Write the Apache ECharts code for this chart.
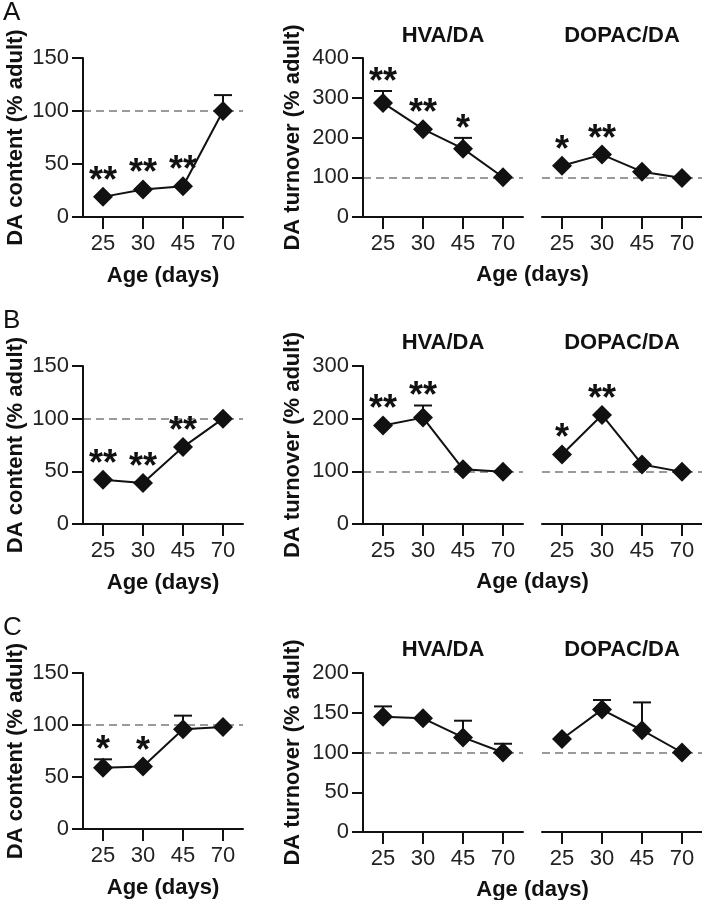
<!DOCTYPE html>
<html><head><meta charset="utf-8">
<script src="https://cdn.jsdelivr.net/npm/echarts@6/dist/echarts.min.js"></script>
<style>html,body{margin:0;padding:0;background:#fff;}#c{width:702px;height:900px;}</style>
</head><body><div id="c"></div>
<script>
// ---- data ----
const ages = ['25', '30', '45', '70'];
const contentTicksMax = 150;

const aContent = [19, 26, 29, 100];
const aContentErr = [0, 0, 0, 15];
const aContentStars = ['**', '**', '**', ''];
const aHVA = [287, 221, 172, 100];
const aHVAErr = [30, 0, 27, 0];
const aHVAStars = ['**', '**', '*', ''];
const aDOPAC = [129, 157, 114, 98];
const aDOPACErr = [0, 0, 0, 0];
const aDOPACStars = ['*', '**', '', ''];

const bContent = [42, 39, 73, 100];
const bContentErr = [0, 0, 0, 0];
const bContentStars = ['**', '**', '**', ''];
const bHVA = [187, 202, 104, 99];
const bHVAErr = [0, 23, 0, 0];
const bHVAStars = ['**', '**', '', ''];
const bDOPAC = [132, 207, 113, 99];
const bDOPACErr = [0, 0, 0, 0];
const bDOPACStars = ['*', '**', '', ''];

const cContent = [59, 60, 96, 98];
const cContentErr = [8, 0, 13, 0];
const cContentStars = ['*', '*', '', ''];
const cHVA = [145, 143, 119, 100];
const cHVAErr = [13, 0, 21, 11];
const cHVAStars = ['', '', '', ''];
const cDOPAC = [117, 154, 128, 100];
const cDOPACErr = [0, 12, 35, 0];
const cDOPACStars = ['', '', '', ''];

const turnoverMax = [400, 300, 200];
const turnoverStep = [100, 100, 50];
const refLine = 100;

// ---- layout ----
const FONT = 'Liberation Sans, Arial, Helvetica, sans-serif';
const INK = '#111';
const rows = [{top: 58, h: 159}, {top: 366, h: 158}, {top: 673, h: 159}];
const cols = [83, 363, 542];
const W = 160;

const panels = [
  [[aContent, aContentErr, aContentStars], [aHVA, aHVAErr, aHVAStars], [aDOPAC, aDOPACErr, aDOPACStars]],
  [[bContent, bContentErr, bContentStars], [bHVA, bHVAErr, bHVAStars], [bDOPAC, bDOPACErr, bDOPACStars]],
  [[cContent, cContentErr, cContentStars], [cHVA, cHVAErr, cHVAStars], [cDOPAC, cDOPACErr, cDOPACStars]]
];

const grid = [], xAxis = [], yAxis = [], series = [], graphic = [];

const axisLine = {show: true, lineStyle: {color: INK, width: 2}};
const tick = (len) => ({show: true, inside: false, length: len, lineStyle: {color: INK, width: 2}});

panels.forEach((row, r) => {
  row.forEach((p, c) => {
    const gi = grid.length;
    grid.push({left: cols[c], top: rows[r].top, width: W, height: rows[r].h, containLabel: false});
    xAxis.push({
      type: 'category', gridIndex: gi, data: ages, boundaryGap: true,
      axisLine: axisLine, axisTick: Object.assign(tick(12), {alignWithLabel: true}),
      axisLabel: {fontSize: 22, color: '#222', margin: 16, fontFamily: FONT},
      name: c === 0 ? 'Age (days)' : '', nameLocation: 'middle', nameGap: 48,
      nameTextStyle: {fontSize: 22, fontWeight: 'bold', color: INK, fontFamily: FONT},
      splitLine: {show: false}
    });
    const isContent = c === 0;
    const max = isContent ? contentTicksMax : turnoverMax[r];
    const step = isContent ? 50 : turnoverStep[r];
    yAxis.push({
      type: 'value', gridIndex: gi, min: 0, max: max, interval: step,
      show: c !== 2,
      axisLine: axisLine, axisTick: tick(11),
      axisLabel: {fontSize: 22, color: '#222', margin: 14, fontFamily: FONT},
      splitLine: {show: false},
      name: c === 0 ? 'DA content (% adult)' : (c === 1 ? 'DA turnover (% adult)' : ''),
      nameLocation: 'middle', nameGap: c === 0 ? 56 : 59,
      nameTextStyle: {fontSize: 22, fontWeight: 'bold', color: INK, fontFamily: FONT}
    });
    const vals = p[0], errs = p[1], stars = p[2];
    // error bars (upper only)
    series.push({
      type: 'custom', xAxisIndex: gi, yAxisIndex: gi, z: 1, silent: true,
      data: vals.map((v, i) => [i, v, errs[i]]),
      renderItem: function (params, api) {
        const e = api.value(2);
        if (!e) return null;
        const i = api.value(0), v = api.value(1);
        const p0 = api.coord([i, v]), p1 = api.coord([i, v + e]);
        return {type: 'group', children: [
          {type: 'line', shape: {x1: p0[0], y1: p0[1], x2: p1[0], y2: p1[1]}, style: {stroke: INK, lineWidth: 2}},
          {type: 'line', shape: {x1: p1[0] - 9, y1: p1[1], x2: p1[0] + 9, y2: p1[1]}, style: {stroke: INK, lineWidth: 2}}
        ]};
      }
    });
    // line with diamonds + reference
    series.push({
      type: 'line', xAxisIndex: gi, yAxisIndex: gi, z: 3, data: vals,
      symbol: 'diamond', symbolSize: 20, showSymbol: true,
      lineStyle: {color: INK, width: 2}, itemStyle: {color: INK},
      markLine: {silent: true, symbol: 'none', label: {show: false}, z: 0,
        lineStyle: {color: '#9a9a9a', width: 2, type: [8, 5]},
        data: [{yAxis: refLine}]}
    });
    // significance stars
    series.push({
      type: 'custom', xAxisIndex: gi, yAxisIndex: gi, z: 4, silent: true,
      data: vals.map((v, i) => [i, v, errs[i]]),
      renderItem: function (params, api) {
        const s = stars[params.dataIndex];
        if (!s) return null;
        const i = api.value(0), v = api.value(1), e = api.value(2);
        const p0 = api.coord([i, v]);
        const p1 = api.coord([i, v + (e || 0)]);
        const y = Math.min(p0[1] - 22, e ? p1[1] - 15 : Infinity);
        return {type: 'text', x: p0[0], y: y + 7,
          style: {text: s, fill: INK, font: 'bold 36px ' + FONT, textAlign: 'center', textVerticalAlign: 'middle'}};
      }
    });
  });
});

const letters = ['A', 'B', 'C'];
const letterTop = [0, 308, 615];
const titleY = [36, 343, 650];
letters.forEach((L, r) => {
  graphic.push({type: 'text', left: 3, top: letterTop[r],
    style: {text: L, fill: INK, font: '26px ' + FONT}});
  graphic.push({type: 'text', x: cols[1] + W / 2, y: titleY[r],
    style: {text: 'HVA/DA', fill: INK, font: 'bold 22px ' + FONT, textAlign: 'center', textVerticalAlign: 'middle'}});
  graphic.push({type: 'text', x: cols[2] + W / 2, y: titleY[r],
    style: {text: 'DOPAC/DA', fill: INK, font: 'bold 22px ' + FONT, textAlign: 'center', textVerticalAlign: 'middle'}});
  graphic.push({type: 'text', x: (cols[1] + cols[2] + W) / 2, y: rows[r].top + rows[r].h + 58,
    style: {text: 'Age (days)', fill: INK, font: 'bold 22px ' + FONT, textAlign: 'center', textVerticalAlign: 'middle'}});
});

const chart = echarts.init(document.getElementById('c'), null, {renderer: 'canvas'});
chart.setOption({
  animation: false,
  backgroundColor: '#fff',
  grid: grid, xAxis: xAxis, yAxis: yAxis, series: series, graphic: graphic
});
</script></body></html>
